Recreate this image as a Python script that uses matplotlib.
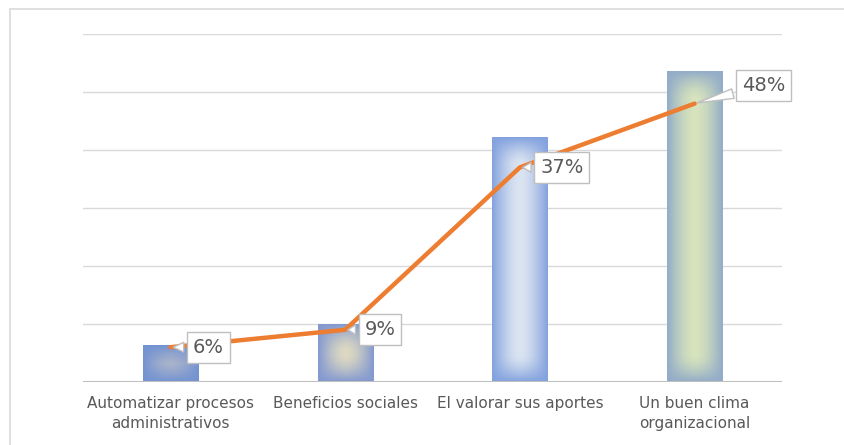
import numpy as np
import matplotlib.pyplot as plt
from matplotlib.colors import to_rgb

categories = ["Automatizar procesos\nadministrativos", "Beneficios sociales",
              "El valorar sus aportes", "Un buen clima\norganizacional"]
bar_values = [6.3, 10.0, 42.2, 53.5]
line_values = [6, 9, 37, 48]
labels = ["6%", "9%", "37%", "48%"]
center_colors = ["#b6bac8", "#ddd9c2", "#dbe4f1", "#d7e4bd"]
edge_colors = ["#7393d2", "#8399d0", "#83a2de", "#93acc8"]
label_offsets = [(38, 0), (35, 0), (42, 0), (69, 18)]

W, H = 844, 445
fig = plt.figure(figsize=(W / 100, H / 100), dpi=100)
ax = fig.add_axes([83 / W, (H - 382) / H, (782 - 83) / W, (382 - 34) / H])
ax.set_xlim(-0.5, 3.5)
ax.set_ylim(0, 60)

# light outer frame (only top and left edges show)
fig.patches.append(plt.Rectangle((10 / W, -0.05), 1.2, (H - 9) / H + 0.05,
                                 transform=fig.transFigure, fill=False,
                                 edgecolor="#d9d9d9", linewidth=1.2))

for y in range(10, 61, 10):
    ax.axhline(y, color="#d9d9d9", linewidth=1.0, zorder=0)
ax.axhline(0, color="#bfbfbf", linewidth=2.2, zorder=4)

# bars with gradient fill from centre to edge
bw = 0.315
px_x = (782 - 83) / 4.0
px_y = (382 - 34) / 60.0
for i, v in enumerate(bar_values):
    wpx = bw * px_x
    hpx = v * px_y
    nx, ny = 60, max(int(hpx), 10)
    xx = np.linspace(-1, 1, nx)[None, :]
    yy = np.linspace(0, hpx, ny)[:, None]
    tx = (np.abs(xx) * np.ones((ny, 1))) ** 1.6
    dist = np.minimum(yy, hpx - yy) / (wpx / 2)
    ty = (np.clip(1 - dist, 0, 1) * np.ones((1, nx))) ** 1.6
    t = 1 - (1 - tx) * (1 - ty)
    c0 = np.array(to_rgb(center_colors[i]))
    c1 = np.array(to_rgb(edge_colors[i]))
    img = c0[None, None, :] * (1 - t[..., None]) + c1[None, None, :] * t[..., None]
    ax.imshow(img, extent=[i - bw / 2, i + bw / 2, 0, v], origin="lower",
              aspect="auto", interpolation="bilinear", zorder=2)

x = np.arange(len(categories))
ax.plot(x, line_values, color="#ed7d31", linewidth=3.2, solid_capstyle="round", zorder=5)

for i, (v, lab) in enumerate(zip(line_values, labels)):
    ax.annotate(lab, xy=(i, v), xytext=label_offsets[i], textcoords="offset pixels",
                ha="center", va="center", fontsize=14, color="#595959",
                bbox=dict(boxstyle="square,pad=0.3", fc="white", ec="#bfbfbf", lw=1),
                arrowprops=dict(arrowstyle="wedge,tail_width=0.5,shrink_factor=0.5",
                                fc="white", ec="#bfbfbf", lw=1),
                zorder=6)

ax.set_xticks(x)
ax.set_xticklabels(categories, fontsize=11, color="#595959", linespacing=1.4)
ax.tick_params(axis="x", length=0, pad=10)
ax.set_yticks([])
for s in ax.spines.values():
    s.set_visible(False)

fig.savefig("out.png", dpi=100)
